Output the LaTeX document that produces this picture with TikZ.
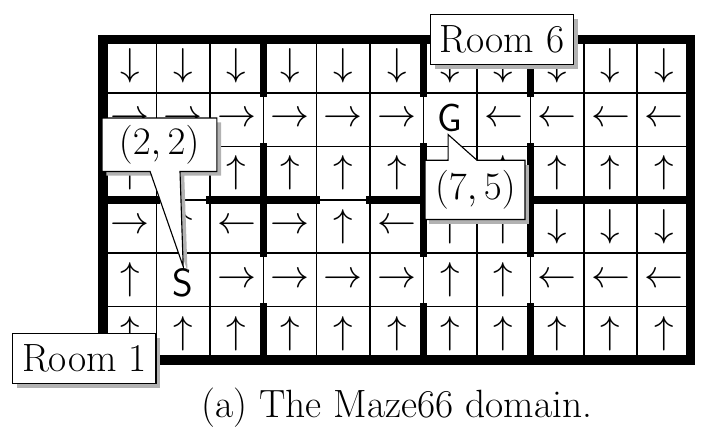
\documentclass[tikz,border=0pt]{standalone}
\usetikzlibrary{shadows}
\begin{document}
\begin{tikzpicture}[x=1cm,y=1cm,
  cellarrow/.style={font=\fontsize{20}{24}\selectfont},
  wall/.style={line width=4pt,line cap=rect},
  lbl/.style={draw,fill=white,line width=0.6pt,font=\fontsize{21}{24}\selectfont,inner xsep=5pt,inner ysep=6pt,drop shadow={shadow xshift=0.08,shadow yshift=-0.08,fill=black!30,opacity=1}},
  callshadow/.style={fill=black!30},
  callbox/.style={draw,fill=white,line width=0.6pt,line join=miter},
  calltext/.style={font=\fontsize{21}{24}\selectfont}]
\useasboundingbox (-1.93,-1.52) rectangle (11.25,6.74);
\draw[line width=0.8pt] (0,0) grid (11,6);
\foreach \c in {0,...,10} {
  \node[cellarrow] (a1\c) at (\c+0.5,5.5) {$\downarrow$};
  \node[cellarrow] (a3\c) at (\c+0.5,3.5) {$\uparrow$};
  \node[cellarrow] (a6\c) at (\c+0.5,0.5) {$\uparrow$};
}
\foreach \c/\s in {0/\rightarrow,1/\rightarrow,2/\rightarrow,3/\rightarrow,4/\rightarrow,5/\rightarrow,7/\leftarrow,8/\leftarrow,9/\leftarrow,10/\leftarrow}
  \node[cellarrow] (a2\c) at (\c+0.5,4.5) {$\s$};
\foreach \c/\s in {0/\rightarrow,1/\uparrow,2/\leftarrow,3/\rightarrow,4/\uparrow,5/\leftarrow,6/\uparrow,7/\uparrow,8/\downarrow,9/\downarrow,10/\downarrow}
  \node[cellarrow] (a4\c) at (\c+0.5,2.5) {$\s$};
\foreach \c/\s in {0/\uparrow,2/\rightarrow,3/\rightarrow,4/\rightarrow,5/\rightarrow,6/\uparrow,7/\uparrow,8/\leftarrow,9/\leftarrow,10/\leftarrow}
  \node[cellarrow] (a5\c) at (\c+0.5,1.5) {$\s$};
\node[font=\fontsize{21}{24}\sffamily] (G) at (6.5,4.53) {G};
\node[font=\fontsize{21}{24}\sffamily] (S) at (1.5,1.45) {S};
\draw[line width=5pt,line cap=rect] (0,0) rectangle (11,6);
\foreach \x in {3,6,8} {
  \draw[wall] (\x,5) -- (\x,6);
  \draw[wall] (\x,2) -- (\x,4);
  \draw[wall] (\x,0) -- (\x,1);
}
\draw[wall] (0,3) -- (1,3);
\draw[wall] (2,3) -- (4,3);
\draw[wall] (5,3) -- (6,3);
\draw[wall] (8,3) -- (11,3);
% callout (2,2)
\coordinate (t1) at (1.5,1.75);
\fill[callshadow] (0.06,3.45) -- (0.96,3.45) -- (1.58,1.67) -- (1.52,3.45) -- (2.21,3.45) -- (2.21,4.45) -- (0.06,4.45) -- cycle;
\draw[callbox] (-0.02,3.53) -- (0.88,3.53) -- (t1) -- (1.44,3.53) -- (2.13,3.53) -- (2.13,4.53) -- (-0.02,4.53) -- cycle;
\node[calltext] (c1) at (1.05,4.03) {$(2,2)$};
% callout (7,5)
\coordinate (t2) at (6.46,4.22);
\fill[callshadow] (6.11,2.55) rectangle (7.98,3.66);
\draw[callbox] (6.03,2.63) -- (7.9,2.63) -- (7.9,3.74) -- (7.0,3.74) -- (t2) -- (6.46,3.74) -- (6.03,3.74) -- cycle;
\node[calltext] (c2) at (6.97,3.18) {$(7,5)$};
% room labels
\node[lbl] (r6) at (7.47,6.0) {Room 6};
\node[lbl] (r1) at (-0.35,0.03) {Room 1};
\node[font=\fontsize{21}{24}\selectfont] (cap) at (5.5,-0.9) {(a) The Maze66 domain.};
\end{tikzpicture}
\end{document}
